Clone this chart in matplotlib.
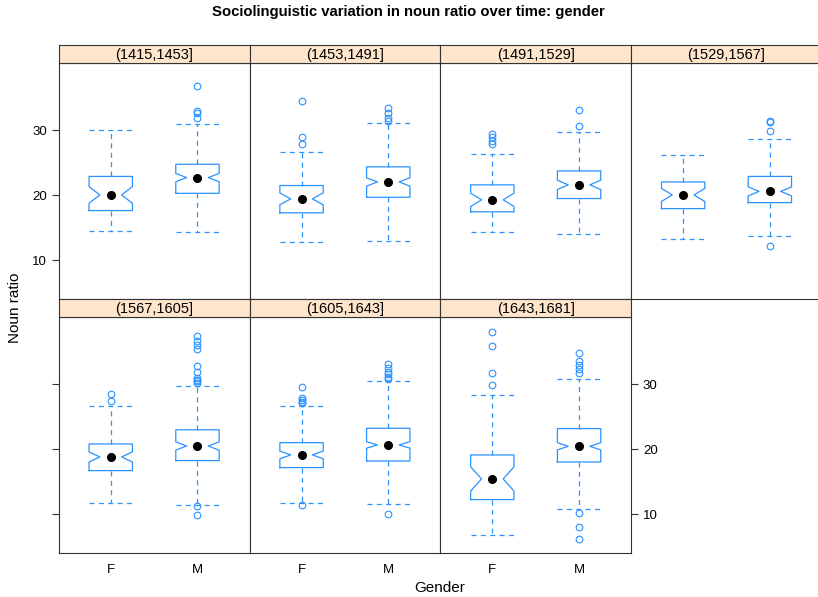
import numpy as np
import matplotlib
matplotlib.use("Agg")
import matplotlib.pyplot as plt

plt.rcParams['font.family'] = ['Liberation Sans', 'DejaVu Sans']

# periods (panels, as.table order) and groups
periods = ['(1415,1453]', '(1453,1491]', '(1491,1529]', '(1529,1567]',
           '(1567,1605]', '(1605,1643]', '(1643,1681]']
genders = ['F', 'M']

# box stats per period, [F, M]
q1 = [[17.65, 20.3], [17.3, 19.7], [17.45, 19.5], [17.95, 18.87],
      [16.72, 18.26], [17.18, 18.2], [12.26, 18.05]]
med = [[20.05, 22.72], [19.45, 22.05], [19.3, 21.6], [20.05, 20.6],
       [18.82, 20.5], [19.13, 20.67], [15.44, 20.46]]
q3 = [[22.9, 24.77], [21.5, 24.37], [21.6, 23.75], [22.05, 22.9],
      [20.82, 23.0], [21.02, 23.23], [19.13, 23.18]]
whislo = [[14.45, 14.35], [12.85, 12.97], [14.4, 14.05], [13.2, 13.8],
          [11.74, 11.43], [11.7, 11.58], [6.87, 10.77]]
whishi = [[30.0, 30.97], [26.7, 31.1], [26.4, 29.8], [26.25, 28.6],
          [26.72, 29.79], [26.6, 30.56], [28.36, 30.82]]
# notch half-width
notch = [[1.28, 0.64], [0.92, 0.64], [1.03, 0.72], [1.0, 0.69],
         [0.77, 0.64], [0.59, 0.5], [1.87, 0.56]]
outliers = [
    [[], [36.8, 33.0, 32.7, 31.85]],
    [[34.5, 28.9, 27.9], [33.4, 32.6, 31.95, 31.5]],
    [[29.5, 28.97, 28.36, 27.9], [33.08, 30.67]],
    [[], [31.45, 31.2, 29.9, 12.26]],
    [[28.56, 27.44], [37.38, 36.7, 36.1, 35.43, 32.82, 31.95, 30.97, 30.72,
                      30.46, 30.2, 11.28, 9.85]],
    [[29.6, 27.9, 27.6, 27.33, 27.18, 11.38],
     [33.08, 32.46, 31.95, 31.54, 31.18, 30.82, 10.0]],
    [[38.05, 35.95, 31.8, 29.9],
     [34.82, 33.54, 32.92, 32.36, 31.74, 10.26, 8.1, 6.26]],
]
yticks = [10, 20, 30]

blue = '#2a92ff'
W, H = 818, 597
fig = plt.figure(figsize=(W / 100, H / 100), dpi=100)

col_left = 58.7
col_w = 190.8
rows_top = [63.3, 317.3]
panel_h = 236.0
strip_h = 18.0

for i, per in enumerate(periods):
    r, c = divmod(i, 4)
    left = col_left + c * col_w
    top = rows_top[r]
    ax = fig.add_axes([left / W, 1 - (top + panel_h) / H, col_w / W, panel_h / H])
    stats = []
    for g in range(2):
        stats.append(dict(med=med[i][g], q1=q1[i][g], q3=q3[i][g],
                          whislo=whislo[i][g], whishi=whishi[i][g],
                          cilo=med[i][g] - notch[i][g],
                          cihi=med[i][g] + notch[i][g],
                          fliers=outliers[i][g]))
    ax.bxp(stats, positions=[1, 2], widths=0.5, capwidths=0.5, shownotches=True,
           boxprops=dict(color=blue, lw=0.9),
           whiskerprops=dict(color=blue, lw=0.9, linestyle=(0, (4, 3.5))),
           capprops=dict(color=blue, lw=0.9, linestyle=(0, (4, 3.5))),
           medianprops=dict(linestyle='none'),
           flierprops=dict(marker='o', markerfacecolor='none',
                           markeredgecolor=blue, markersize=4.8,
                           markeredgewidth=0.8, linestyle='none'))
    ax.plot([1, 2], med[i], 'o', color='black', markersize=5.5, zorder=5)
    ax.set_xlim(0.4, 2.6)
    ax.set_ylim(4.0, 40.3)
    for s in ax.spines.values():
        s.set_color('#333333')
        s.set_linewidth(0.8)
    ax.tick_params(axis='x', length=0, labelsize=9.5, pad=8)
    ax.tick_params(axis='y', length=5, width=0.8, color='#333333',
                   labelsize=9.5, direction='out')
    ax.set_yticks(yticks)
    ax.set_xticks([1, 2])
    if r == 1:
        ax.set_xticklabels(genders)
    else:
        ax.set_xticklabels([])
    if c == 0 and r == 0:
        ax.set_yticklabels([str(t) for t in yticks])
    elif c == 0 and r == 1:
        ax.set_yticklabels([])
    elif i == len(periods) - 1:
        ax.yaxis.tick_right()
        ax.set_yticklabels([str(t) for t in yticks])
    elif c == 3:
        ax.yaxis.tick_right()
        ax.set_yticklabels([])
    else:
        ax.tick_params(axis='y', length=0, labelleft=False)

    # strip
    sax = fig.add_axes([left / W, 1 - top / H, col_w / W, strip_h / H])
    sax.set_facecolor('#ffe5cc')
    sax.set_xticks([])
    sax.set_yticks([])
    for s in sax.spines.values():
        s.set_color('#333333')
        s.set_linewidth(0.8)
    sax.text(0.5, 0.45, per, ha='center', va='center', fontsize=10.5,
             transform=sax.transAxes)

fig.text(408 / W, 1 - 12 / H, 'Sociolinguistic variation in noun ratio over time: gender',
         ha='center', va='center', fontsize=10.7, fontweight='bold')
fig.text(15 / W, 1 - 308 / H, 'Noun ratio', rotation=90, ha='center',
         va='center', fontsize=11)
fig.text(440 / W, 1 - 588 / H, 'Gender', ha='center', va='center', fontsize=11)

fig.savefig('out.png', dpi=100)
